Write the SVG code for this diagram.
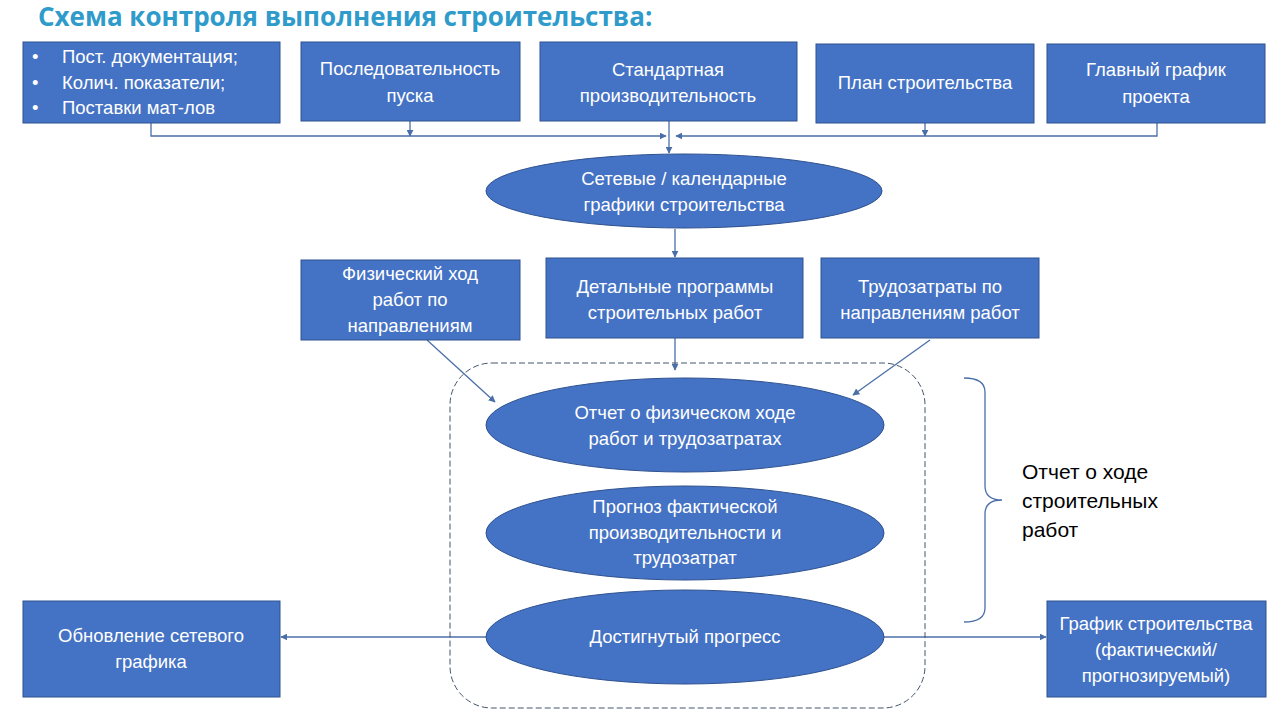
<svg xmlns="http://www.w3.org/2000/svg" width="1280" height="720" viewBox="0 0 1280 720">
<defs>
<marker id="ah" viewBox="0 0 10 10" refX="9" refY="5" markerWidth="7" markerHeight="7" orient="auto" markerUnits="userSpaceOnUse">
<path d="M0,0 L10,5 L0,10 z" fill="#4A6FA8"/>
</marker>
<style>
.box{fill:#4472C4;stroke:#2F528F;stroke-width:1}
.t{font-family:"Liberation Sans","Noto Sans CJK SC",sans-serif;font-size:18.5px;fill:#FFFFFF;text-anchor:middle}
.tl{font-family:"Liberation Sans","Noto Sans CJK SC",sans-serif;font-size:18.5px;fill:#FFFFFF}
.c{fill:none;stroke:#4A6FA8;stroke-width:1.3}
.ca{fill:none;stroke:#4A6FA8;stroke-width:1.3;marker-end:url(#ah)}
</style>
</defs>
<rect width="1280" height="720" fill="#FFFFFF"/>
<text x="38" y="26" font-family="'Open Sans','Noto Sans CJK SC',sans-serif" font-weight="bold" font-size="26" fill="#2E9BCB">Схема контроля выполнения строительства:</text>

<g id="connectors">
<polyline class="ca" points="151,123 151,136 666,136"/>
<line class="ca" x1="410" y1="121" x2="410" y2="136"/>
<line class="ca" x1="669" y1="121" x2="669" y2="153"/>
<polyline class="ca" points="1157,123 1157,136 676,136"/>
<line class="ca" x1="925" y1="123" x2="925" y2="136"/>
<line class="ca" x1="675" y1="229" x2="675" y2="257"/>
<line class="ca" x1="427" y1="340" x2="495" y2="402"/>
<line class="ca" x1="675" y1="338" x2="675" y2="370"/>
<line class="ca" x1="930" y1="340" x2="853" y2="395"/>
<line class="ca" x1="486" y1="637" x2="281" y2="637"/>
<line class="ca" x1="884" y1="637" x2="1046" y2="637"/>
<rect x="450" y="363" width="475" height="345" rx="42" ry="42" fill="none" stroke="#44546A" stroke-width="1" stroke-dasharray="6,3"/>
<path class="c" d="M964,378 Q985,378 985,392 L985,486 Q985,500 1002,500 Q985,500 985,514 L985,608 Q985,622 964,622"/>
</g>

<g id="n1"><rect class="box" x="23" y="42" width="257" height="81"/>
<text class="tl" x="32" y="63">•</text><text class="tl" x="62" y="63">Пост. документация;</text>
<text class="tl" x="32" y="89">•</text><text class="tl" x="62" y="89">Колич. показатели;</text>
<text class="tl" x="32" y="114">•</text><text class="tl" x="62" y="114">Поставки мат-лов</text></g>
<g id="n2"><rect class="box" x="301" y="42" width="219" height="79"/>
<text class="t" x="410" y="75">Последовательность</text><text class="t" x="410" y="102">пуска</text></g>
<g id="n3"><rect class="box" x="540" y="42" width="257" height="79"/>
<text class="t" x="668" y="76">Стандартная</text><text class="t" x="668" y="102">производительность</text></g>
<g id="n4"><rect class="box" x="816" y="44" width="218" height="79"/>
<text class="t" x="925" y="89">План строительства</text></g>
<g id="n5"><rect class="box" x="1047" y="44" width="218" height="79"/>
<text class="t" x="1156" y="76">Главный график</text><text class="t" x="1156" y="103">проекта</text></g>

<g id="e1"><ellipse class="box" cx="684" cy="191" rx="198" ry="37"/>
<text class="t" x="684" y="185">Сетевые / календарные</text><text class="t" x="684" y="211">графики строительства</text></g>

<g id="nA"><rect class="box" x="301" y="260" width="219" height="80"/>
<text class="t" x="410" y="280">Физический ход</text><text class="t" x="410" y="306">работ по</text><text class="t" x="410" y="332">направлениям</text></g>
<g id="nB"><rect class="box" x="546" y="258" width="257" height="80"/>
<text class="t" x="675" y="293">Детальные программы</text><text class="t" x="675" y="319">строительных работ</text></g>
<g id="nC"><rect class="box" x="821" y="258" width="218" height="80"/>
<text class="t" x="930" y="293">Трудозатраты по</text><text class="t" x="930" y="319">направлениям работ</text></g>

<g id="e2"><ellipse class="box" cx="685" cy="425" rx="199" ry="47"/>
<text class="t" x="685" y="419">Отчет о физическом ходе</text><text class="t" x="685" y="445">работ и трудозатратах</text></g>
<g id="e3"><ellipse class="box" cx="685" cy="533" rx="199" ry="47"/>
<text class="t" x="685" y="513">Прогноз фактической</text><text class="t" x="685" y="539">производительности и</text><text class="t" x="685" y="564">трудозатрат</text></g>
<g id="e4"><ellipse class="box" cx="685" cy="637" rx="199" ry="47"/>
<text class="t" x="685" y="643">Достигнутый прогресс</text></g>

<g id="nL"><rect class="box" x="23" y="601" width="257" height="96"/>
<text class="t" x="151" y="642">Обновление сетевого</text><text class="t" x="151" y="668">графика</text></g>
<g id="nR"><rect class="box" x="1047" y="601" width="219" height="96"/>
<text class="t" x="1156" y="630">График строительства</text><text class="t" x="1156" y="656">(фактический/</text><text class="t" x="1156" y="682">прогнозируемый)</text></g>

<g id="label">
<text font-family="'Liberation Sans',sans-serif" font-size="21" fill="#000000">
<tspan x="1022" y="479">Отчет о ходе</tspan><tspan x="1022" y="508">строительных</tspan><tspan x="1022" y="537">работ</tspan></text>
</g>
</svg>
